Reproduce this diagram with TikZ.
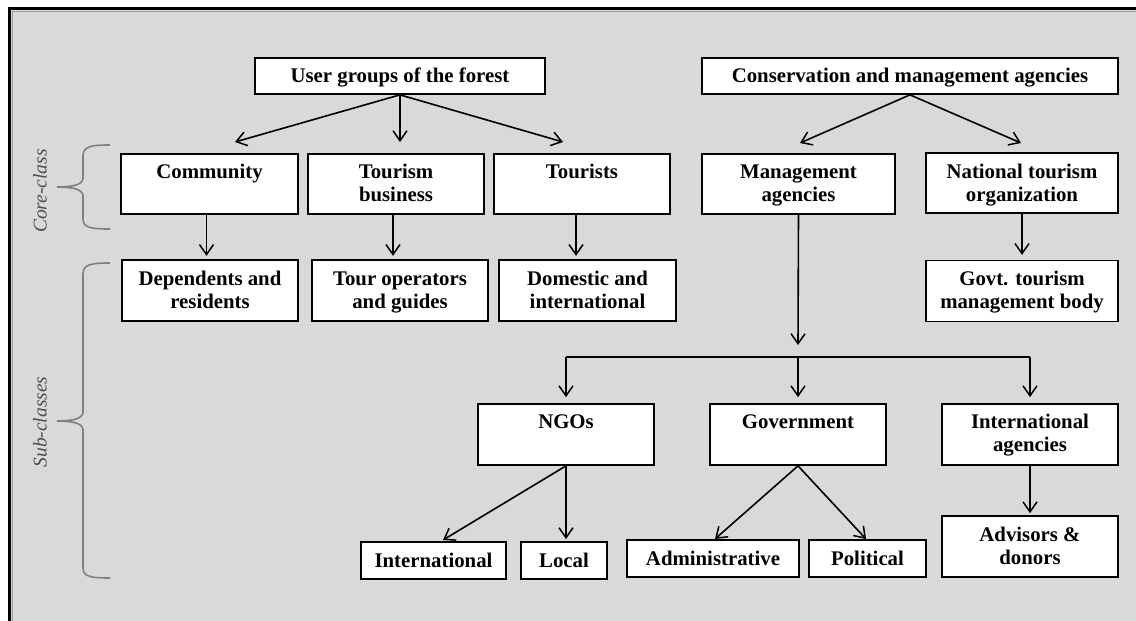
\documentclass[tikz,border=0pt]{standalone}
\usepackage{fontspec}
\setmainfont{Liberation Serif}
\usetikzlibrary{arrows.meta,calc}
\definecolor{panel}{HTML}{D9D9D9}
\definecolor{bracegray}{HTML}{808080}
\definecolor{labelgray}{HTML}{4D4D4D}
\newcommand\twolines[1]{\begin{tabular}[t]{@{}c@{}}#1\end{tabular}}
\begin{document}
\begin{tikzpicture}[x=1pt,y=-1pt,
  box/.style={draw=black,fill=white,line width=1.7pt,inner sep=0pt},
  txt/.style={font=\fontsize{20.8}{23.5}\selectfont\bfseries,inner sep=0pt,anchor=base},
  link/.style={line width=1.6pt},
  arr/.style={line width=1.6pt,-{Straight Barb[length=10pt,width=14pt,line width=1.5pt]}},
  brace/.style={draw=bracegray,line width=1.6pt},
  side/.style={font=\fontsize{19.5}{22}\selectfont\itshape,text=labelgray,rotate=90,inner sep=0pt}]
\useasboundingbox (0,0) rectangle (1136,621);
% frame: white margin, grey panel, heavy top and left rule
\fill[white] (0,0) rectangle (1136,621);
\fill[panel] (9.5,8.5) rectangle (1136,621);
\draw[line width=1pt,color=black!40] (1136,11) -- (12,11) -- (12,621);
\draw[line width=3pt] (1136,8.5) -- (9.5,8.5) -- (9.5,621);

% top level
\node[box,minimum width=290pt,minimum height=36pt] (ug) at (400,76) {};
\node[txt] (ug-t) at (400,82) {User groups of the forest};
\node[box,minimum width=416pt,minimum height=36pt] (cma) at (910,76) {};
\node[txt] (cma-t) at (910,82) {Conservation and management agencies};

% core classes
\node[box,minimum width=177pt,minimum height=60pt] (comm) at (209.5,184) {};
\node[txt] (comm-t) at (209.5,178) {Community};
\node[box,minimum width=176pt,minimum height=60pt] (tbus) at (396,184) {};
\node[txt] (tbus-t) at (396,178) {\twolines{Tourism\\business}};
\node[box,minimum width=176pt,minimum height=60pt] (tour) at (582,184) {};
\node[txt] (tour-t) at (582,178) {Tourists};
\node[box,minimum width=193pt,minimum height=60pt] (mgmt) at (798.5,184) {};
\node[txt] (mgmt-t) at (798.5,178) {\twolines{Management\\agencies}};
\node[box,minimum width=192pt,minimum height=60pt] (nto) at (1022,183) {};
\node[txt] (nto-t) at (1022,178) {\twolines{National tourism\\organization}};

% sub classes, first row
\node[box,minimum width=176pt,minimum height=61pt] (dep) at (210,290.5) {};
\node[txt] (dep-t) at (210,285) {\twolines{Dependents and\\residents}};
\node[box,minimum width=176pt,minimum height=61pt] (tog) at (400,290.5) {};
\node[txt] (tog-t) at (400,285) {\twolines{Tour operators\\and guides}};
\node[box,minimum width=177pt,minimum height=61pt] (dom) at (587.5,290.5) {};
\node[txt] (dom-t) at (587.5,285) {\twolines{Domestic and\\international}};
\node[box,minimum width=192pt,minimum height=61pt] (gtb) at (1022,291) {};
\node[txt] (gtb-t) at (1022,285) {\twolines{Govt. tourism\\management body}};

% management branches
\node[box,minimum width=176pt,minimum height=61pt] (ngo) at (566,434.5) {};
\node[txt] (ngo-t) at (566,428) {NGOs};
\node[box,minimum width=176pt,minimum height=61pt] (govt) at (798,434.5) {};
\node[txt] (govt-t) at (798,428) {Government};
\node[box,minimum width=176pt,minimum height=61pt] (intag) at (1030,434.5) {};
\node[txt] (intag-t) at (1030,428) {\twolines{International\\agencies}};

% bottom row
\node[box,minimum width=145pt,minimum height=37pt] (intl) at (433.5,560.5) {};
\node[txt] (intl-t) at (433.5,567) {International};
\node[box,minimum width=86pt,minimum height=37pt] (local) at (564,560.5) {};
\node[txt] (local-t) at (564,567) {Local};
\node[box,minimum width=172pt,minimum height=37pt] (admin) at (713,558.5) {};
\node[txt] (admin-t) at (713,565) {Administrative};
\node[box,minimum width=117pt,minimum height=37pt] (pol) at (867.5,558.5) {};
\node[txt] (pol-t) at (867.5,565) {Political};
\node[box,minimum width=176pt,minimum height=61pt] (adv) at (1030,546.5) {};
\node[txt] (adv-t) at (1030,541) {\twolines{Advisors \&\\donors}};

% arrow end points
\coordinate (comm-in) at (235,142);
\coordinate (tbus-in) at (400,142);
\coordinate (tour-in) at (563,142);
\coordinate (mgmt-in) at (800,143);
\coordinate (nto-in) at (1021,143);
\coordinate (bar-l) at (566,357);
\coordinate (bar-m) at (798,357);
\coordinate (bar-r) at (1030,357);
\coordinate (intl-in) at (443,540);
\coordinate (local-in) at (566,539);
\coordinate (admin-in) at (715,539);
\coordinate (pol-in) at (866,539);

% connectors
\draw[arr] (ug.south) -- (comm-in);
\draw[arr] (ug.south) -- (tbus-in);
\draw[arr] (ug.south) -- (tour-in);
\draw[arr] (cma.south) -- (mgmt-in);
\draw[arr] (cma.south) -- (nto-in);
\draw[arr] ([xshift=-3pt]comm.south) -- ++(0,41);
\draw[arr] ([xshift=-3pt]tbus.south) -- ++(0,41);
\draw[arr] ([xshift=-6pt]tour.south) -- ++(0,41);
\draw[arr] (nto.south) -- ++(0,41);
\draw[arr] (mgmt.south) -- ([yshift=12pt]bar-m);
\draw[link] (bar-l) -- (bar-r);
\draw[arr] (bar-l) -- ([yshift=6pt]ngo.north);
\draw[arr] (bar-m) -- ([yshift=6pt]govt.north);
\draw[arr] (bar-r) -- ([yshift=6pt]intag.north);
\draw[arr] (ngo.south) -- (intl-in);
\draw[arr] (ngo.south) -- (local-in);
\draw[arr] (govt.south) -- (admin-in);
\draw[arr] (govt.south) -- (pol-in);
\draw[arr] (intag.south) -- ([yshift=2pt]adv.north);

% class braces
\draw[brace] (110,145) .. controls (92,145) and (83,146) .. (83,156) -- (83,178)
  .. controls (83,185) and (72,187) .. (57,187)
  .. controls (72,187) and (83,189) .. (83,196) -- (83,219)
  .. controls (83,228) and (92,229) .. (110,229);
\node[side] (core-l) at (40,191) {Core-class};
\draw[brace] (110,263) .. controls (92,263) and (83,264) .. (83,274) -- (83,412)
  .. controls (83,419) and (72,421) .. (57,421)
  .. controls (72,421) and (83,423) .. (83,430) -- (83,568)
  .. controls (83,577) and (92,578) .. (110,578);
\node[side] (sub-l) at (40,422) {Sub-classes};
\end{tikzpicture}
\end{document}
